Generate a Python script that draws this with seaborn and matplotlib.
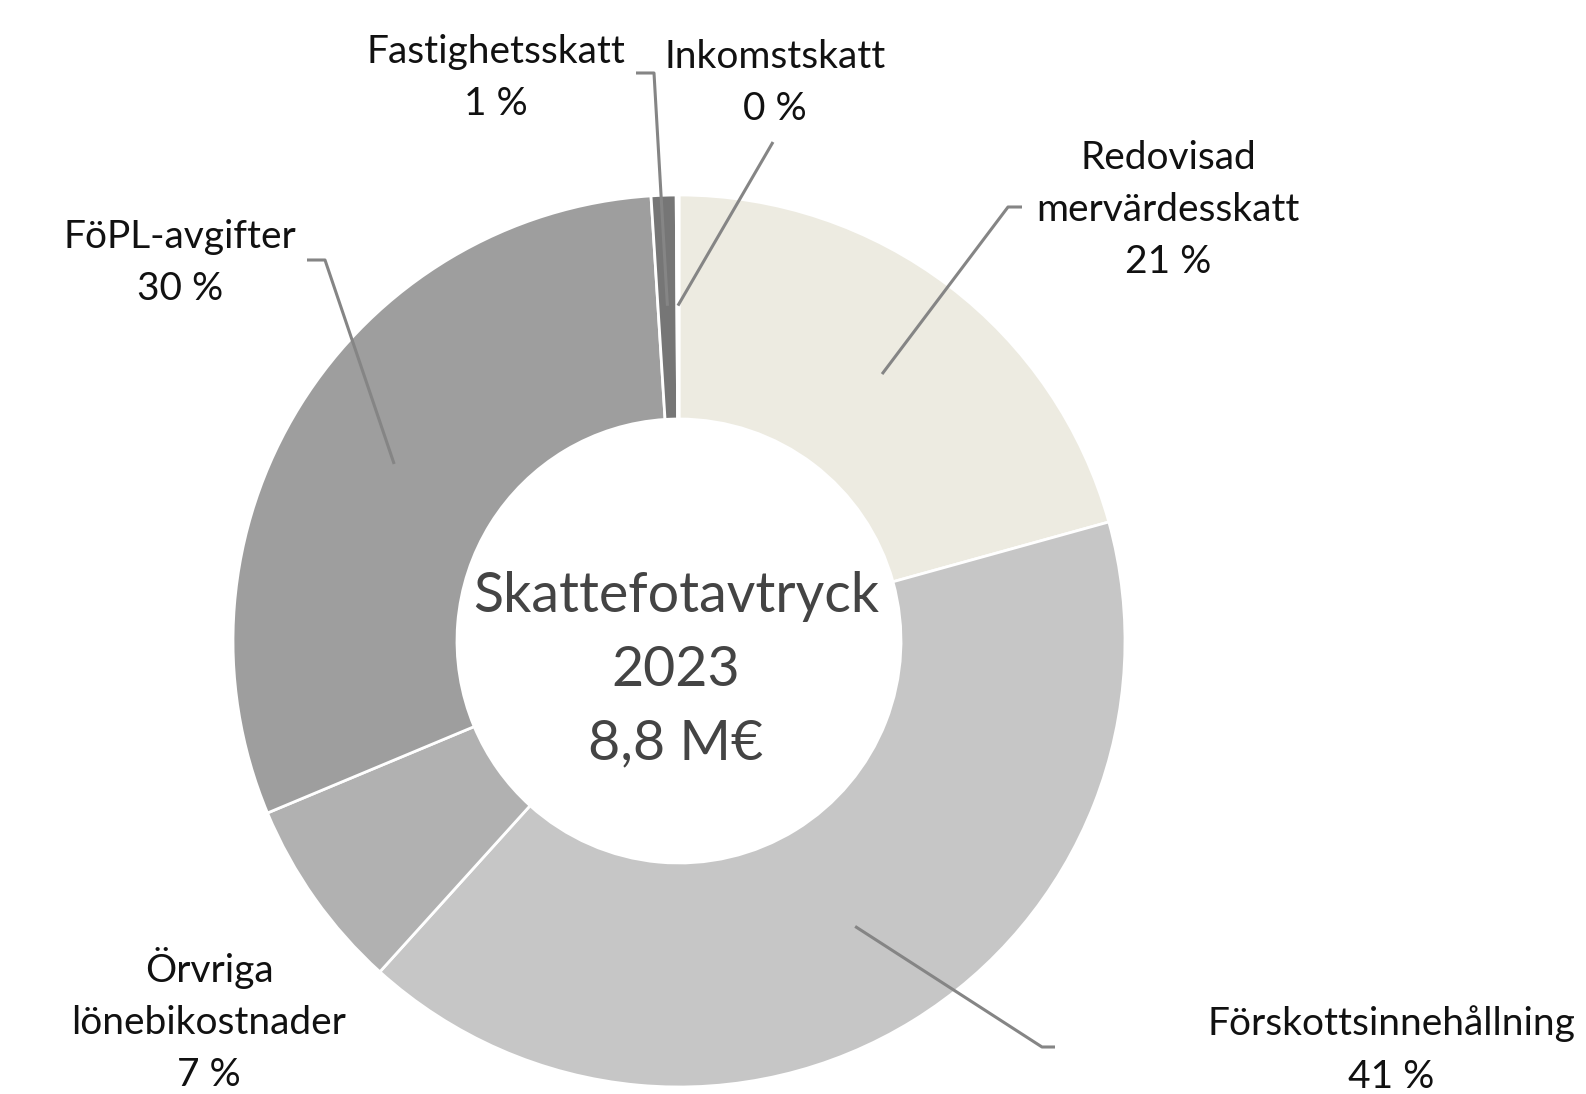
"""
Donut chart: Skattefotavtryck 2023 (tax footprint), share per tax type.
"""
import numpy as np
import matplotlib.pyplot as plt
import seaborn as sns

# Data (shares of the 8,8 M€ total, in %)
categories = ['Redovisad\nmervärdesskatt', 'Förskottsinnehållning', 'Örvriga\nlönebikostnader',
              'FöPL-avgifter', 'Fastighetsskatt', 'Inkomstskatt']
shares = [20.7, 41.0, 7.0, 30.3, 0.9, 0.1]
colors = ['#edebe1', '#c6c6c6', '#b1b1b1', '#9e9e9e', '#767676', '#5c5c5c']
center_text = 'Skattefotavtryck\n2023\n8,8 M€'

W, H = 1586, 1094

sns.set_style('white')
plt.rcParams['font.family'] = ['Lato', 'DejaVu Sans']

fig = plt.figure(figsize=(W / 100, H / 100), dpi=100)
ax = fig.add_axes([0, 0, 1, 1])

cx, cy, R = 679, H - 641, 446
wedges, _ = ax.pie(shares, radius=R, center=(cx, cy), startangle=90, counterclock=False,
                   colors=colors, wedgeprops=dict(width=224, edgecolor='white', linewidth=2))
ax.set_xlim(0, W)
ax.set_ylim(0, H)
ax.set_aspect('equal')
ax.axis('off')

# label layout in pixel coords (y from top): text centre, leader elbow points
layout = {
    'Redovisad\nmervärdesskatt': dict(text=(1168, 210), path=[(1008, 207), (1022, 207)]),
    'Förskottsinnehållning': dict(text=(1391, 1050), path=[(1042, 1047), (1055, 1047)]),
    'Örvriga\nlönebikostnader': dict(text=(209, 1020), path=None),
    'FöPL-avgifter': dict(text=(180, 263), path=[(325, 260), (307, 260)]),
    'Fastighetsskatt': dict(text=(496, 78), path=[(654, 73), (636, 73)]),
    'Inkomstskatt': dict(text=(775, 83), path=[(773, 142)]),
}

for w, name, share in zip(wedges, categories, shares):
    lay = layout[name]
    tx, ty = lay['text']
    ax.text(tx, H - ty, f'{name}\n{round(share):.0f} %', ha='center', va='center',
            fontsize=28, color='#111111', linespacing=1.56)
    if lay['path'] is None:
        continue
    mid = np.deg2rad((w.theta1 + w.theta2) / 2)
    xs = [cx + 0.752 * R * np.cos(mid)] + [p[0] for p in lay['path']]
    ys = [cy + 0.752 * R * np.sin(mid)] + [H - p[1] for p in lay['path']]
    ax.plot(xs, ys, color='#858585', lw=2.2, solid_capstyle='butt', zorder=5)

ax.text(cx - 3, H - 670, center_text, ha='center', va='center', fontsize=40,
        color='#444444', linespacing=1.56)

plt.savefig('out.png', dpi=100)
plt.close()
